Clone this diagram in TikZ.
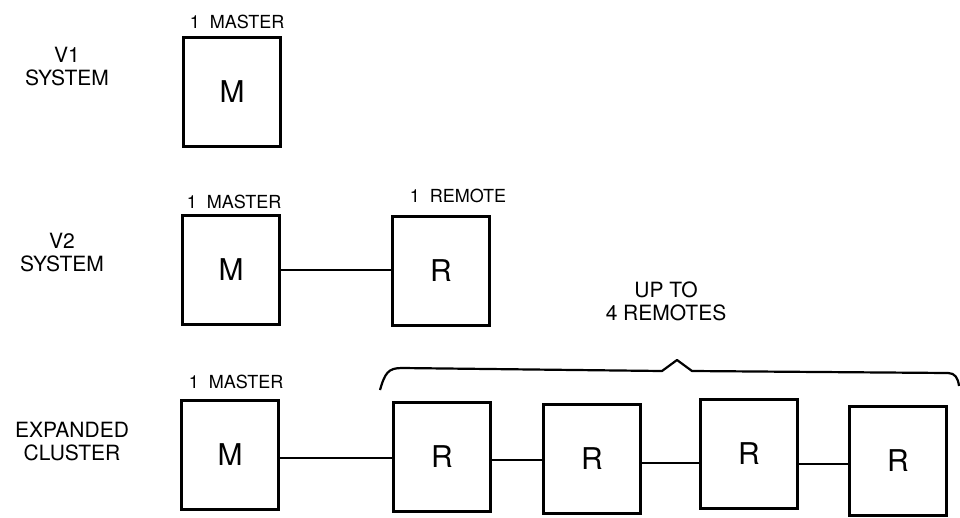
\documentclass[tikz,border=0pt]{standalone}
\usepackage{fontspec}
\setmainfont{TeX Gyre Heros}
\usetikzlibrary{positioning}

\begin{document}
\begin{tikzpicture}[x=1pt, y=-1pt, unit/.style={draw, line width=2.6pt, minimum width=97pt, minimum height=109pt, inner sep=0pt, font=\fontsize{30}{30}\selectfont}, tag/.style={inner sep=0pt, font=\fontsize{18}{18}\selectfont}, side/.style={align=center, inner sep=0pt, font=\fontsize{21}{23}\selectfont}, wire/.style={line width=1.8pt}, brace/.style={line width=2.2pt, line join=round}]
\useasboundingbox (0,0) rectangle (960,517);
% V1 system
\node[side] (v1) at (67,67) {V1\\SYSTEM};
\node[unit] (m1) at (232,92) {M};
\node[tag, above=7pt of m1, xshift=5pt] (m1tag) {1~~MASTER};
% V2 system
\node[side] (v2) at (62,253) {V2\\SYSTEM};
\node[unit] (m2) at (231,270) {M};
\node[unit] (r2) at (441,271) {R};
\node[tag, above=5pt of m2, xshift=3pt] (m2tag) {1~~MASTER};
\node[tag, above=12pt of r2, xshift=17pt] (r2tag) {1~~REMOTE};
\draw[wire] (m2.east) -- (m2.east -| r2.west);
% expanded cluster
\node[side] (v3) at (72,442) {EXPANDED\\CLUSTER};
\node[unit] (m3) at (230,455) {M};
\node[tag, above=10pt of m3, xshift=6pt] (m3tag) {1~~MASTER};
\node[unit] (x1) at (442,457) {R};
\node[unit] (x2) at (592,459) {R};
\node[unit] (x3) at (749,454) {R};
\node[unit] (x4) at (898,461) {R};
\foreach \a/\b/\y in {m3/x1/458, x1/x2/460, x2/x3/463, x3/x4/464}
  \draw[wire] (\a.east |- 0,\y) -- (\b.west |- 0,\y);
\node[side] (upto) at (666,301) {UP TO\\4 REMOTES};
\draw[brace] (380,390) .. controls (385,373) and (388,368) .. (402,368) -- (662,371) -- (677,360) -- (692,371) -- (948,373) .. controls (955,373) and (958,378) .. (959,386);
\end{tikzpicture}
\end{document}
